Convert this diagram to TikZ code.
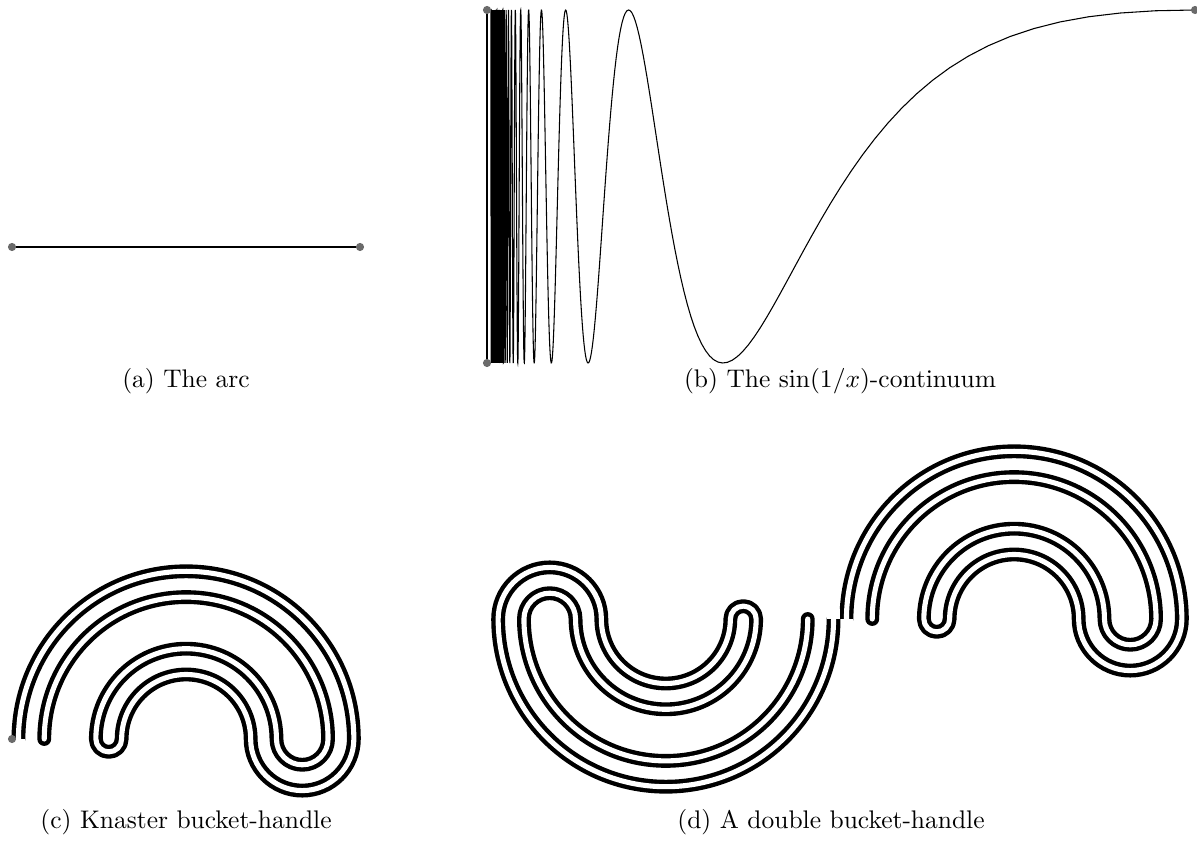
\documentclass[tikz,border=0pt]{standalone}

\newcommand{\bucketpath}{%
  (0.5,0) arc[start angle=180, end angle=0, radius=13]
  arc[start angle=0, end angle=-180, radius=4]
  arc[start angle=0, end angle=180, radius=5]
  arc[start angle=0, end angle=-180, radius=1]
  arc[start angle=180, end angle=0, radius=7]
  arc[start angle=180, end angle=360, radius=2]
  arc[start angle=0, end angle=180, radius=11]}
% open start: hide the round cap below the first end point
\newcommand{\bucketcut}{\fill[white] (-0.02,0) rectangle (1.02,-0.8);}

\tikzset{
  endpt/.style={circle, fill=black!58, inner sep=0pt, minimum size=3.2pt},
  strand/.style={line width=1.72pt, double=white, double distance=2.0pt,
    line join=round, line cap=round},
  subcap/.style={inner sep=0pt}
}

\begin{document}
\begin{tikzpicture}[x=0.3925pt,y=0.3925pt]
\useasboundingbox (0,0) rectangle (1197,-844);

% (a) the arc
\coordinate (arcL) at (12,-247);
\coordinate (arcR) at (360,-247);
\draw[line width=0.45pt] (arcL) -- (arcR);
\node[endpt] (a0) at (arcL) {};
\node[endpt] (a1) at (arcR) {};
\node[subcap] (capa) at (186,-381) {(a) The arc};

% (b) sin(1/x)
\coordinate (limTop) at (487,-10);
\coordinate (limBot) at (487,-363);
\coordinate (sinEnd) at (1195,-10);
\draw[line width=0.45pt] (limTop) -- (limBot);
\draw[line width=0.42pt] plot[domain=90:16000, samples=3000, variable=\a]
  ({487+708*(90/\a)}, {-186.5+176.5*sin(\a)});
\node[endpt] (b0) at (limTop) {};
\node[endpt] (b1) at (limBot) {};
\node[endpt] (b2) at (sinEnd) {};
\node[subcap] (capb) at (840,-381) {(b) The $\sin(1/x)$-continuum};

% (c) Knaster bucket-handle
\begin{scope}[shift={(12,-739)}, scale=12.9]
  \draw[strand] \bucketpath;
  \bucketcut
\end{scope}
\node[endpt] (c0) at (12,-739) {};
\node[subcap] (capc) at (186,-822) {(c) Knaster bucket-handle};

% (d) two handles glued at the end point
\begin{scope}[shift={(840,-619)}, scale=12.9]
  \draw[strand] \bucketpath;
  \bucketcut
\end{scope}
\begin{scope}[shift={(840,-619)}, scale=12.9, rotate=180]
  \draw[strand] \bucketpath;
  \bucketcut
\end{scope}
\node[subcap] (capd) at (831,-822) {(d) A double bucket-handle};
\end{tikzpicture}
\end{document}
